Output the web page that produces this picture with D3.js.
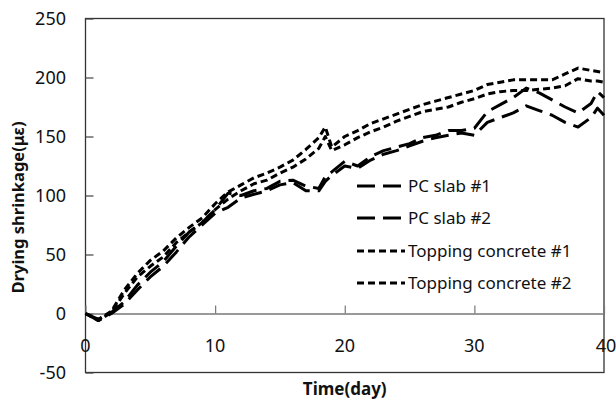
<!DOCTYPE html>
<html>
<head>
<meta charset="utf-8">
<script src="https://cdn.jsdelivr.net/npm/d3@7"></script>
<style>
  html, body { margin: 0; padding: 0; background: #fff; }
  svg { display: block; }
</style>
</head>
<body>
<svg id="chart" width="616" height="405"></svg>
<script>
// Measurement days (age of specimen)
const days = [0, 1, 2, 3, 4, 5, 6, 7, 8, 9, 10, 11, 12, 13, 14, 15, 16, 17, 18, 18.5,
  19, 20, 21, 22, 23, 24, 25, 26, 27, 28, 29, 30, 31, 32, 33, 34, 35, 36, 37, 38, 39, 39.5, 40];

// Drying shrinkage (με)
const pcSlab1 = [0, -5, 1, 10, 24, 35, 44, 57, 69, 77, 88, 102, 100, 104, 106, 112, 113, 108, 106, 116,
  120, 129, 125, 133, 138, 141, 144, 149, 151, 155, 155, 157, 171, 177, 183, 191, 187, 181, 175, 170, 178, 188, 183];
const pcSlab2 = [0, -6, 0, 8, 20, 31, 40, 52, 65, 75, 85, 90, 98, 101, 104, 109, 111, 104, 104, 112,
  117, 125, 123, 130, 135, 138, 142, 146, 149, 151, 153, 151, 162, 166, 170, 176, 172, 168, 162, 158, 166, 174, 168];
const topping1 = [0, -5, 2, 20, 34, 45, 53, 64, 73, 81, 93, 103, 109, 115, 119, 124, 130, 139, 149, 158,
  141, 150, 155, 161, 165, 169, 173, 177, 180, 183, 186, 189, 194, 196, 198, 198, 198, 198, 203, 208, 206, 205, 204];
const topping2 = [0, -6, 1, 17, 31, 40, 48, 60, 69, 77, 88, 97, 104, 110, 113, 119, 124, 131, 140, 150,
  138, 143, 149, 154, 158, 163, 167, 171, 173, 175, 179, 182, 186, 188, 189, 189, 190, 191, 193, 199, 197, 197, 196];

const seriesNames = ["PC slab #1", "PC slab #2", "Topping concrete #1", "Topping concrete #2"];
const seriesValues = [pcSlab1, pcSlab2, topping1, topping2];
const seriesDash = ["18,8", "18,8", "7,4", "7,4"];

const xTicks = [0, 10, 20, 30, 40];
const yTicks = [-50, 0, 50, 100, 150, 200, 250];

const xTitle = "Time(day)";
const yTitle = "Drying shrinkage(με)";

const svg = d3.select("#chart");
const font = "'Noto Sans', 'Open Sans', sans-serif";

const plot = { left: 85.5, right: 604, top: 18.5, bottom: 372.5 };

const x = d3.scaleLinear().domain([0, 40]).range([plot.left, plot.right]);
const y = d3.scaleLinear().domain([-50, 250]).range([plot.bottom, plot.top]);

// plot frame
svg.append("rect")
  .attr("x", plot.left).attr("y", plot.top)
  .attr("width", plot.right - plot.left).attr("height", plot.bottom - plot.top)
  .attr("fill", "none").attr("stroke", "#333").attr("stroke-width", 1.3);

// y axis: ticks pointing inward, labels on the left
const yAxis = d3.axisRight(y).tickValues(yTicks).tickSize(8).tickFormat("");
const yAxisG = svg.append("g").attr("transform", `translate(${plot.left},0)`).call(yAxis);
yAxisG.select(".domain").remove();
yAxisG.selectAll(".tick line").attr("stroke", "#444").attr("stroke-width", 1.2);

svg.append("g").selectAll("text").data(yTicks).join("text")
  .attr("x", 66).attr("y", d => y(d))
  .attr("dy", "0.35em")
  .attr("text-anchor", "end")
  .attr("font-family", font).attr("font-size", 18).attr("fill", "#111")
  .text(d => d);

// x axis drawn on the zero line, ticks pointing up
const xAxis = d3.axisTop(x).tickValues(xTicks).tickSize(8).tickSizeOuter(0).tickFormat("");
const xAxisG = svg.append("g").attr("transform", `translate(0,${y(0)})`).call(xAxis);
xAxisG.select(".domain").attr("stroke", "#777").attr("stroke-width", 1.3);
xAxisG.selectAll(".tick line").attr("stroke", "#777").attr("stroke-width", 1.2);

svg.append("g").selectAll("text").data(xTicks).join("text")
  .attr("x", d => x(d) + (d === 40 ? 2 : 0)).attr("y", y(0) + 32)
  .attr("dy", "0.35em")
  .attr("text-anchor", "middle")
  .attr("font-family", font).attr("font-size", 18).attr("fill", "#111")
  .text(d => d);

// axis titles
svg.append("text")
  .attr("x", x(20)).attr("y", 395)
  .attr("text-anchor", "middle")
  .attr("font-family", font).attr("font-size", 17).attr("font-weight", "bold").attr("fill", "#111")
  .text(xTitle);

svg.append("text")
  .attr("transform", `translate(24,${(plot.top + plot.bottom) / 2 + 12}) rotate(-90)`)
  .attr("text-anchor", "middle")
  .attr("font-family", font).attr("font-size", 16.5).attr("font-weight", "bold").attr("fill", "#111")
  .text(yTitle);

// data lines
const line = d3.line()
  .x((d, i) => x(days[i]))
  .y(d => y(d));

svg.append("g").selectAll("path").data(seriesValues).join("path")
  .attr("d", d => line(d))
  .attr("fill", "none")
  .attr("stroke", "#000")
  .attr("stroke-width", 3)
  .attr("stroke-linejoin", "round")
  .attr("stroke-dasharray", (d, i) => seriesDash[i]);

// legend
const legendRows = [186, 218, 251, 283];
const legend = svg.append("g").selectAll("g").data(seriesNames).join("g")
  .attr("transform", (d, i) => `translate(357,${legendRows[i]})`);
legend.append("line")
  .attr("x1", 0).attr("x2", 48).attr("y1", 0).attr("y2", 0)
  .attr("stroke", "#000").attr("stroke-width", 3)
  .attr("stroke-dasharray", (d, i) => seriesDash[i]);
legend.append("text")
  .attr("x", 51).attr("y", 0).attr("dy", "0.35em")
  .attr("font-family", font).attr("font-size", 17).attr("fill", "#111")
  .text(d => d);
</script>
</body>
</html>
